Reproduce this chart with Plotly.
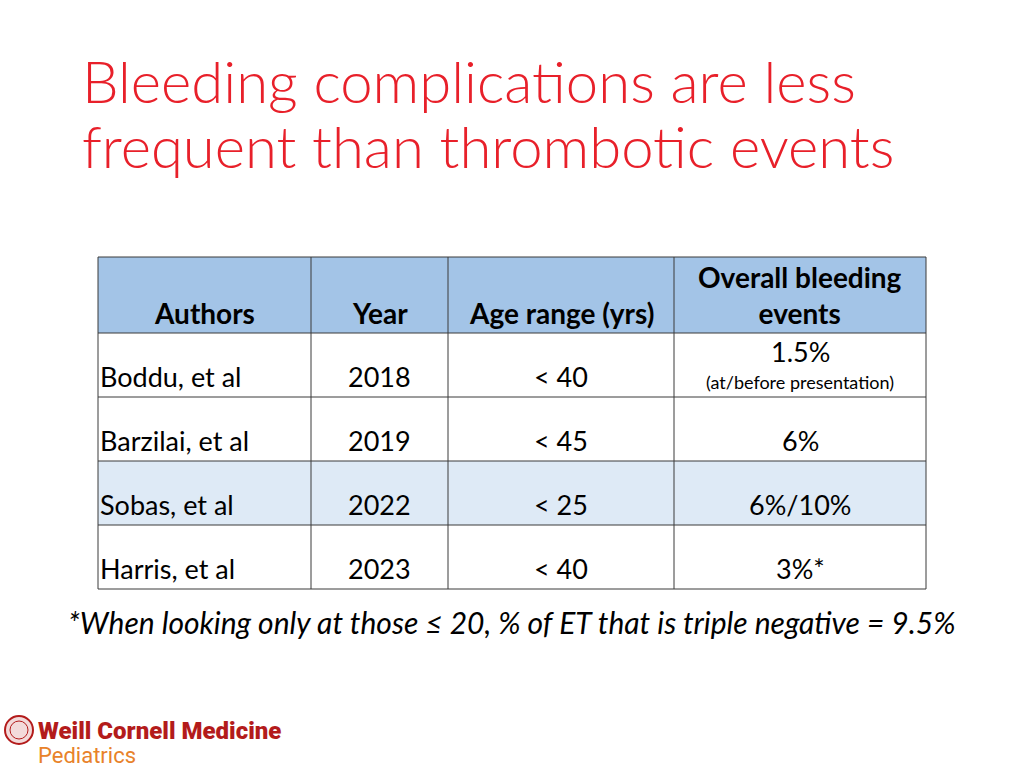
import plotly.graph_objects as go

# ---- data ----
title_lines = ["Bleeding complications are less", "frequent than thrombotic events"]
headers = ["Authors", "Year", "Age range (yrs)", "Overall bleeding<br>events"]
authors = ["Boddu, et al", "Barzilai, et al", "Sobas, et al", "Harris, et al"]
years = ["2018", "2019", "2022", "2023"]
age_ranges = ["< 40", "< 45", "< 25", "< 40"]
bleeding = ["1.5%", "6%", "6%/10%", "3%*"]
bleeding_notes = ["(at/before presentation)", "", "", ""]
footnote = "*When looking only at those \u2264 20, % of ET that is triple negative = 9.5%"
logo_main = "Weill Cornell Medicine"
logo_sub = "Pediatrics"

# ---- layout geometry ----
col_edges = [98, 311, 448, 674, 926]
row_edges = [257, 333, 397, 461, 525, 589]
row_fills = ["#A3C4E7", "#FFFFFF", "#FFFFFF", "#DEEAF6", "#FFFFFF"]
FONT = "Lato"
RED = "#E8202A"
BODY = 27

fig = go.Figure()
shapes = []
annos = []

for r in range(5):
    shapes.append(dict(type="rect", xref="x", yref="y",
                       x0=col_edges[0], x1=col_edges[-1],
                       y0=row_edges[r], y1=row_edges[r + 1],
                       fillcolor=row_fills[r], line=dict(width=0), layer="below"))
for x in col_edges:
    shapes.append(dict(type="line", xref="x", yref="y", x0=x, x1=x,
                       y0=row_edges[0], y1=row_edges[-1],
                       line=dict(color="#3A3A3A", width=1)))
for y in row_edges:
    shapes.append(dict(type="line", xref="x", yref="y", x0=col_edges[0], x1=col_edges[-1],
                       y0=y, y1=y, line=dict(color="#3A3A3A", width=1)))

# title
for i, line in enumerate(title_lines):
    annos.append(dict(x=80, y=80 + i * 65, xref="x", yref="y", text=line,
                      showarrow=False, xanchor="left", yanchor="middle",
                      font=dict(family=FONT, size=58, color=RED, weight=300)))

# header row
centers = [(col_edges[i] + col_edges[i + 1]) / 2 for i in range(4)]
for i, h in enumerate(headers):
    annos.append(dict(x=centers[i], y=332, xref="x", yref="y", text=h,
                      showarrow=False, xanchor="center", yanchor="bottom",
                      font=dict(family=FONT, size=28, color="#000000", weight="bold")))

# body rows
for r in range(4):
    yb = row_edges[r + 2] - 2
    annos.append(dict(x=98, y=yb, xref="x", yref="y", text=authors[r], showarrow=False,
                      xanchor="left", yanchor="bottom",
                      font=dict(family=FONT, size=BODY, color="#000000")))
    annos.append(dict(x=centers[1], y=yb, xref="x", yref="y", text=years[r], showarrow=False,
                      xanchor="center", yanchor="bottom",
                      font=dict(family=FONT, size=BODY, color="#000000")))
    annos.append(dict(x=centers[2], y=yb, xref="x", yref="y", text=age_ranges[r], showarrow=False,
                      xanchor="center", yanchor="bottom",
                      font=dict(family=FONT, size=BODY, color="#000000")))
    if bleeding_notes[r]:
        annos.append(dict(x=centers[3], y=yb, xref="x", yref="y", text=bleeding_notes[r],
                          showarrow=False, xanchor="center", yanchor="bottom",
                          font=dict(family=FONT, size=18, color="#000000")))
        annos.append(dict(x=centers[3], y=yb - 25, xref="x", yref="y", text=bleeding[r],
                          showarrow=False, xanchor="center", yanchor="bottom",
                          font=dict(family=FONT, size=BODY, color="#000000")))
    else:
        annos.append(dict(x=centers[3], y=yb, xref="x", yref="y", text=bleeding[r],
                          showarrow=False, xanchor="center", yanchor="bottom",
                          font=dict(family=FONT, size=BODY, color="#000000")))

# footnote
annos.append(dict(x=512, y=622, xref="x", yref="y", text="<i>" + footnote + "</i>",
                  showarrow=False, xanchor="center", yanchor="middle",
                  font=dict(family=FONT, size=30, color="#000000")))

# logo
shapes.append(dict(type="circle", xref="x", yref="y", x0=5, x1=33, y0=716, y1=744,
                   line=dict(color="#B31B1B", width=2), fillcolor="#F3DADA"))
shapes.append(dict(type="circle", xref="x", yref="y", x0=10, x1=28, y0=721, y1=739,
                   line=dict(color="#B31B1B", width=1), fillcolor="rgba(0,0,0,0)"))
annos.append(dict(x=36, y=731, xref="x", yref="y", text=logo_main,
                  showarrow=False, xanchor="left", yanchor="middle",
                  font=dict(family="Roboto", size=24, color="#B31B1B", weight=900)))
annos.append(dict(x=36, y=755, xref="x", yref="y", text=logo_sub,
                  showarrow=False, xanchor="left", yanchor="middle",
                  font=dict(family="Roboto", size=22, color="#E8822A")))

fig.update_layout(
    width=1024, height=768,
    margin=dict(l=0, r=0, t=0, b=0),
    paper_bgcolor="white", plot_bgcolor="white",
    xaxis=dict(range=[0, 1024], visible=False, fixedrange=True),
    yaxis=dict(range=[768, 0], visible=False, fixedrange=True),
    shapes=shapes, annotations=annos, showlegend=False,
)
fig.write_html("out.html", config={"displayModeBar": False},
               post_script="document.body.style.margin='0';document.body.style.overflow='hidden';")
